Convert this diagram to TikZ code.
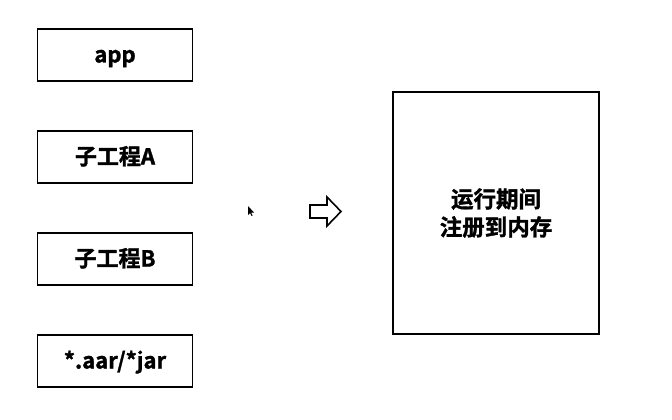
\documentclass[tikz,border=0pt]{standalone}
\usepackage{fontspec}
\setmainfont{Noto Sans CJK SC}
\newfontfamily\cjkbold{Noto Sans CJK SC Bold}[FakeBold=1.5]
\begin{document}
\begin{tikzpicture}[x=1pt,y=-1pt,
  modbox/.style={draw=black,line width=1.8pt,minimum width=155pt,minimum height=52pt,
    inner sep=0pt,text height=16pt,text depth=1pt,
    font=\cjkbold\fontsize{22}{26}\selectfont},
  bigbox/.style={draw=black,line width=1.8pt,minimum width=206pt,minimum height=242pt,
    inner sep=0pt,align=center,font=\cjkbold\fontsize{22.5}{28}\selectfont}]
  \useasboundingbox[fill=white] (0,0) rectangle (672,420);
  % source modules
  \node[modbox] (app)  at (115,55)  {app};
  \node[modbox] (suba) at (115,157) {子工程A};
  \node[modbox] (subb) at (115,259) {子工程B};
  \node[modbox] (libs) at (115,361) {*.aar/*jar};
  % target box
  \node[bigbox] (mem) at (496,213) {运行期间\\注册到内存};
  % hollow block arrow
  \draw[line width=1.6pt,line join=miter]
    (310,205) -- (327,205) -- (327,197) -- (341,211.5) -- (327,226) -- (327,218) -- (310,218) -- cycle;
  % mouse pointer
  \fill[black] (248,206) -- (248,215) -- (250,213) -- (251.5,216) -- (252.5,215.5) -- (251,212.5) -- (254,212.5) -- cycle;
\end{tikzpicture}
\end{document}
